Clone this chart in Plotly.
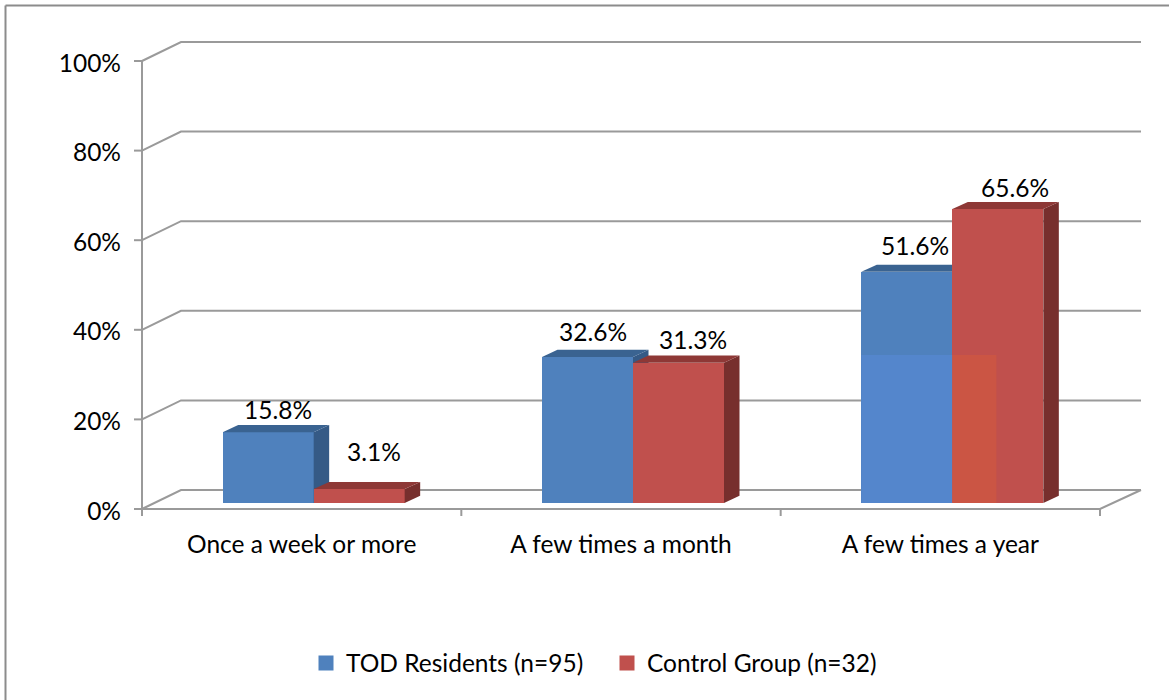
import plotly.graph_objects as go

categories = ["Once a week or more", "A few times a month", "A few times a year"]
tod_values = [15.8, 32.6, 51.6]
control_values = [3.1, 31.3, 65.6]
tick_values = [0, 20, 40, 60, 80, 100]
tick_labels = ["0%", "20%", "40%", "60%", "80%", "100%"]
series_names = ["TOD Residents (n=95)", "Control Group (n=32)"]

# plot area in pixels, slightly larger than the chart box so edge lines are not clipped
L, R, T, B = 134, 26, 40, 184
W, H = 1169, 700
pw, ph = W - L - R, H - T - B
PX_X = 958 / 3          # pixels per category
PX_Y = 4.48             # pixels per percent
X_MIN = -0.5
X_LAST = 2.5
X_MAX = X_MIN + 999 / PX_X
Y_TOP = 467 / PX_Y
VIEW_X = [X_MIN - 8 / PX_X, X_MIN - 8 / PX_X + pw / PX_X]
VIEW_Y = [-7 / PX_Y, -7 / PX_Y + ph / PX_Y]
WALL_DX, WALL_DY = 39 / PX_X, 19 / PX_Y
BAR_DX, BAR_DY = 15.5 / PX_X, 7.2 / PX_Y
BAR_BASE = 6 / PX_Y
BAR_W = 91 / PX_X
BAR_SHIFT = 12 / PX_X

GRID = "#9A9A9A"
BLUE, BLUE_SIDE, BLUE_TOP = "#4F81BD", "#355A86", "#3A6391"
RED, RED_SIDE, RED_TOP = "#C0504D", "#772F2D", "#8E3836"
FONT = "Lato"
FS = 24.5

fig = go.Figure()


def line(xs, ys):
    fig.add_trace(go.Scatter(x=xs, y=ys, mode="lines", line=dict(color=GRID, width=2),
                             showlegend=False, hoverinfo="skip"))


# walls, floor, axis line and tick marks
for v in tick_values:
    line([X_MIN, X_MIN + WALL_DX, X_MAX], [v, v + WALL_DY, v + WALL_DY])
    line([X_MIN - 8 / PX_X, X_MIN], [v, v])
line([X_MIN, X_MIN], [0, 100])
line([X_MIN, X_LAST, X_MAX], [0, 0, WALL_DY])
for k in range(len(categories) + 1):
    line([X_MIN + k, X_MIN + k], [0, -7 / PX_Y])


def bars(values, centre_shift, front, side, top, axes):
    xa, ya = axes
    xs = [i + centre_shift for i in range(len(values))]
    fig.add_trace(go.Bar(x=xs, y=values, base=BAR_BASE, width=BAR_W, marker=dict(color=front, line=dict(width=0)),
                         showlegend=False, xaxis=xa, yaxis=ya))
    for x, v in zip(xs, values):
        x1, x2 = x - BAR_W / 2, x + BAR_W / 2
        yb, yt = BAR_BASE, BAR_BASE + v
        fig.add_trace(go.Scatter(
            x=[x2, x2 + BAR_DX, x2 + BAR_DX, x2, x2], y=[yb, yb + BAR_DY, yt + BAR_DY, yt, yb],
            mode="lines", fill="toself", fillcolor=side, line=dict(width=0),
            showlegend=False, hoverinfo="skip", xaxis=xa, yaxis=ya))
        fig.add_trace(go.Scatter(
            x=[x1, x1 + BAR_DX, x2 + BAR_DX, x2, x1], y=[yt, yt + BAR_DY, yt + BAR_DY, yt, yt],
            mode="lines", fill="toself", fillcolor=top, line=dict(width=0),
            showlegend=False, hoverinfo="skip", xaxis=xa, yaxis=ya))
    return xs


tod_x = bars(tod_values, BAR_SHIFT - BAR_W / 2, BLUE, BLUE_SIDE, BLUE_TOP, ("x2", "y2"))
ctl_x = bars(control_values, BAR_SHIFT + BAR_W / 2, RED, RED_SIDE, RED_TOP, ("x3", "y3"))

# legend entries
for name, colour in zip(series_names, [BLUE, RED]):
    fig.add_trace(go.Scatter(x=[None], y=[None], mode="markers", name=name,
                             marker=dict(symbol="square", size=15, color=colour)))

# value labels, nudged off their bars as in the original
label_nudges = [(10, 23), (15, 38), (5, 25), (14, 23), (8, 26), (17, 22)]
label_points = []
for i in range(3):
    label_points += [(tod_x[i], tod_values[i]), (ctl_x[i], control_values[i])]
annotations = [
    dict(x=x, y=BAR_BASE + v, text=f"{v:.1f}%", showarrow=False, xshift=n[0], yshift=n[1],
         xanchor="center", yanchor="middle", font=dict(family=FONT, size=FS, color="black"))
    for (x, v), n in zip(label_points, label_nudges)
]

# faded rectangle in the lower part of the last group
FADE_TOP = 34.4
shapes = [
    dict(type="rect", xref="x", yref="y", layer="above", line=dict(width=0), fillcolor="#5486CC",
         x0=tod_x[2] - BAR_W / 2, x1=tod_x[2] + BAR_W / 2, y0=BAR_BASE, y1=FADE_TOP),
    dict(type="rect", xref="x", yref="y", layer="above", line=dict(width=0), fillcolor="#CB5544",
         x0=ctl_x[2] - BAR_W / 2, x1=ctl_x[2] - BAR_W / 2 + 44 / PX_X, y0=BAR_BASE, y1=FADE_TOP),
]
# picture frame: top and left edges
shapes += [
    dict(type="line", xref="paper", yref="paper", line=dict(color="#8C8C8C", width=2),
         x0=(5.5 - L) / pw, x1=(5.5 - L) / pw, y0=-B / ph, y1=(H - 5.5 - B) / ph),
    dict(type="line", xref="paper", yref="paper", line=dict(color="#8C8C8C", width=2),
         x0=(5.5 - L) / pw, x1=(W - L) / pw, y0=(H - 5.5 - B) / ph, y1=(H - 5.5 - B) / ph),
]

hidden = dict(visible=False, range=VIEW_X, fixedrange=True)
hidden_y = dict(visible=False, range=VIEW_Y, fixedrange=True)

fig.update_layout(
    width=W, height=H, margin=dict(l=L, r=R, t=T, b=B, pad=0),
    paper_bgcolor="white", plot_bgcolor="rgba(0,0,0,0)",
    barmode="overlay", bargap=0,
    font=dict(family=FONT, size=FS, color="black"),
    annotations=annotations, shapes=shapes,
    xaxis=dict(range=VIEW_X, tickmode="array", tickvals=[0, 1, 2], ticktext=categories,
               ticks="", showgrid=False, zeroline=False, showline=False, ticklabelstandoff=11,
               tickfont=dict(family=FONT, size=FS, color="black"), fixedrange=True),
    yaxis=dict(range=VIEW_Y, tickmode="array", tickvals=tick_values, ticktext=tick_labels,
               ticks="", showgrid=False, zeroline=False,
               showline=False, ticklabelstandoff=12, ticklabelshift=2,
               tickfont=dict(family=FONT, size=FS, color="black"), fixedrange=True),
    xaxis2=dict(overlaying="x", **hidden), yaxis2=dict(overlaying="y", **hidden_y),
    xaxis3=dict(overlaying="x", **hidden), yaxis3=dict(overlaying="y", **hidden_y),
    legend=dict(orientation="h", x=(306 - L) / pw, y=(H - B - 663) / ph, xanchor="left", yanchor="middle",
                entrywidth=256, entrywidthmode="pixels", traceorder="normal",
                font=dict(family=FONT, size=FS, color="black"), bgcolor="rgba(0,0,0,0)"),
)

fig.write_html("out.html", config=dict(displayModeBar=False),
               post_script="document.body.style.margin='0';document.documentElement.style.overflow='hidden';")
